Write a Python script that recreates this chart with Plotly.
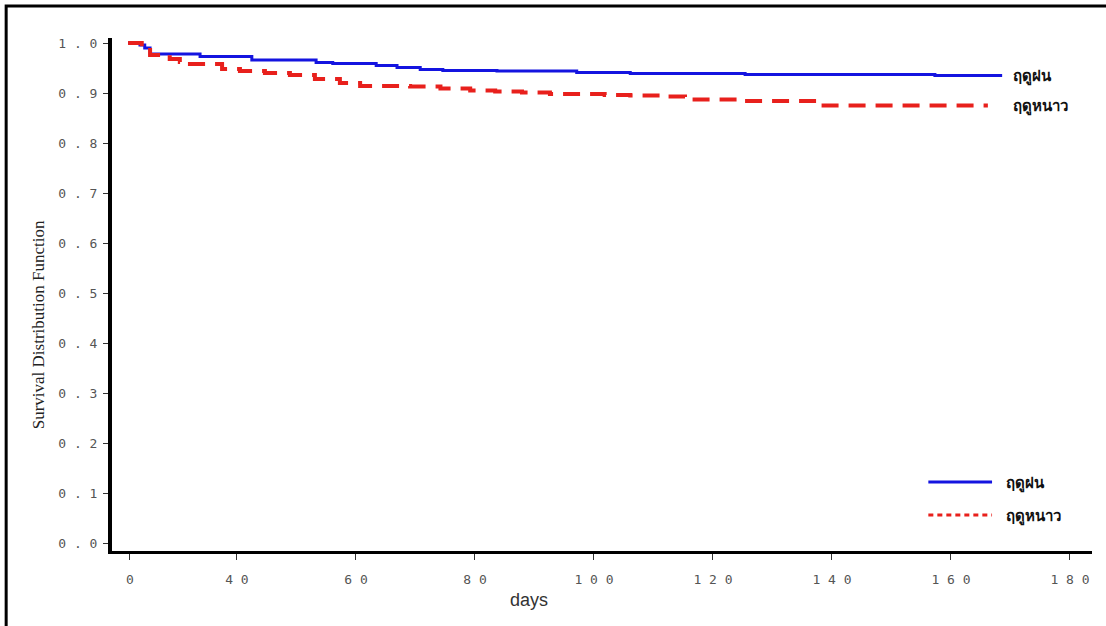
import plotly.graph_objects as go

# Kaplan-Meier survival estimates by season (step functions)
season_rain = "ฤดูฝน"
season_cold = "ฤดูหนาว"

days_rain = [21.7, 23.7, 24.5, 25.4, 33.8, 42.5, 53.3, 56.1, 63.4, 66.9, 70.8,
             74.6, 83.7, 97.1, 106.1, 125.4, 157.3, 168.6]
surv_rain = [1.000, 0.996, 0.990, 0.978, 0.973, 0.966, 0.961, 0.959, 0.955, 0.951,
             0.947, 0.945, 0.944, 0.941, 0.939, 0.937, 0.935, 0.935]

days_cold = [21.7, 24.0, 25.4, 28.7, 30.4, 32.1, 37.5, 40.5, 44.7, 48.9, 53.1,
             57.3, 60.7, 69.1, 74.2, 79.2, 83.4, 87.9, 92.6, 101.8, 106.1, 111.1,
             115.3, 124.5, 138.0, 166.2]
surv_cold = [1.000, 0.992, 0.976, 0.968, 0.962, 0.958, 0.948, 0.944, 0.940, 0.936,
             0.928, 0.920, 0.914, 0.913, 0.909, 0.905, 0.903, 0.901, 0.898, 0.896,
             0.895, 0.893, 0.887, 0.884, 0.875, 0.875]

x_tick_vals = [22, 40, 60, 80, 100, 120, 140, 160, 180]
x_tick_text = ["0", "4 0", "6 0", "8 0", "1 0 0", "1 2 0", "1 4 0", "1 6 0", "1 8 0"]
y_tick_vals = [0.0, 0.1, 0.2, 0.3, 0.4, 0.5, 0.6, 0.7, 0.8, 0.9, 1.0]
y_tick_text = ["0 . 0", "0 . 1", "0 . 2", "0 . 3", "0 . 4", "0 . 5",
               "0 . 6", "0 . 7", "0 . 8", "0 . 9", "1 . 0"]

BLUE = "#1414e0"
RED = "#e8201c"
THAI_FONT = "Noto Sans, DejaVu Sans, sans-serif"

fig = go.Figure()
fig.add_trace(go.Scatter(x=days_rain, y=surv_rain, mode="lines", line_shape="hv",
                         line=dict(color=BLUE, width=3), name=season_rain,
                         showlegend=False))
fig.add_trace(go.Scatter(x=days_cold, y=surv_cold, mode="lines", line_shape="hv",
                         line=dict(color=RED, width=4, dash="17px,10px"),
                         name=season_cold, showlegend=False))

# curve-end labels
label_x = max(days_rain[-1], days_cold[-1])
for yv, txt in [(surv_rain[-1], season_rain), (surv_cold[-1], season_cold)]:
    fig.add_annotation(x=label_x, y=yv, text=f"<b>{txt}</b>", showarrow=False,
                       xanchor="left", yanchor="middle", xshift=9,
                       font=dict(family=THAI_FONT, size=15, color="#111"))

# legend key, bottom right
legend_items = [(season_rain, 0.1345, dict(color=BLUE, width=3, dash="solid")),
                (season_cold, 0.070, dict(color=RED, width=3, dash="5px,4px"))]
for txt, ly, ln in legend_items:
    fig.add_shape(type="line", xref="paper", yref="paper", x0=0.833, x1=0.898,
                  y0=ly, y1=ly, line=ln)
    fig.add_annotation(xref="paper", yref="paper", x=0.910, y=ly, text=f"<b>{txt}</b>",
                       showarrow=False, xanchor="left", yanchor="middle",
                       font=dict(family=THAI_FONT, size=15, color="#111"))

# axis titles
fig.add_annotation(xref="paper", yref="paper", x=0.4255, y=-0.095, text="days",
                   showarrow=False, xanchor="center", yanchor="middle",
                   font=dict(family="Liberation Sans, Arial", size=18, color="#333"))
fig.add_annotation(xref="paper", yref="paper", x=-0.0755, y=0.44,
                   text="Survival Distribution Function", textangle=-90,
                   showarrow=False, xanchor="center", yanchor="middle",
                   font=dict(family="Liberation Serif, Times New Roman", size=17,
                             color="#222"))

# page frame
fig.add_shape(type="rect", xref="paper", yref="paper", x0=-0.108, x1=1.03,
              y0=-0.175, y1=1.0624, line=dict(color="black", width=3),
              fillcolor="rgba(0,0,0,0)", layer="above")

tick_font = dict(family="DejaVu Sans Mono, monospace", size=13, color="#555")
fig.update_xaxes(range=[19.0, 183.7], tickvals=x_tick_vals, ticktext=x_tick_text,
                 showgrid=False, zeroline=False, showline=True, linecolor="black",
                 linewidth=3, ticks="outside", ticklen=6, tickwidth=1,
                 tickcolor="#333", tickfont=tick_font, ticklabelstandoff=8)
fig.update_yaxes(range=[-0.016, 1.01], tickvals=y_tick_vals, ticktext=y_tick_text,
                 showgrid=False, zeroline=False, showline=True, linecolor="black",
                 linewidth=4, ticks="outside", ticklen=5, tickwidth=1,
                 tickcolor="#333", tickfont=tick_font, ticklabelstandoff=3)

fig.update_layout(width=1106, height=626, plot_bgcolor="white", paper_bgcolor="white",
                  margin=dict(l=112, r=14, t=38, b=75), showlegend=False)

fig.write_html("out.html")
